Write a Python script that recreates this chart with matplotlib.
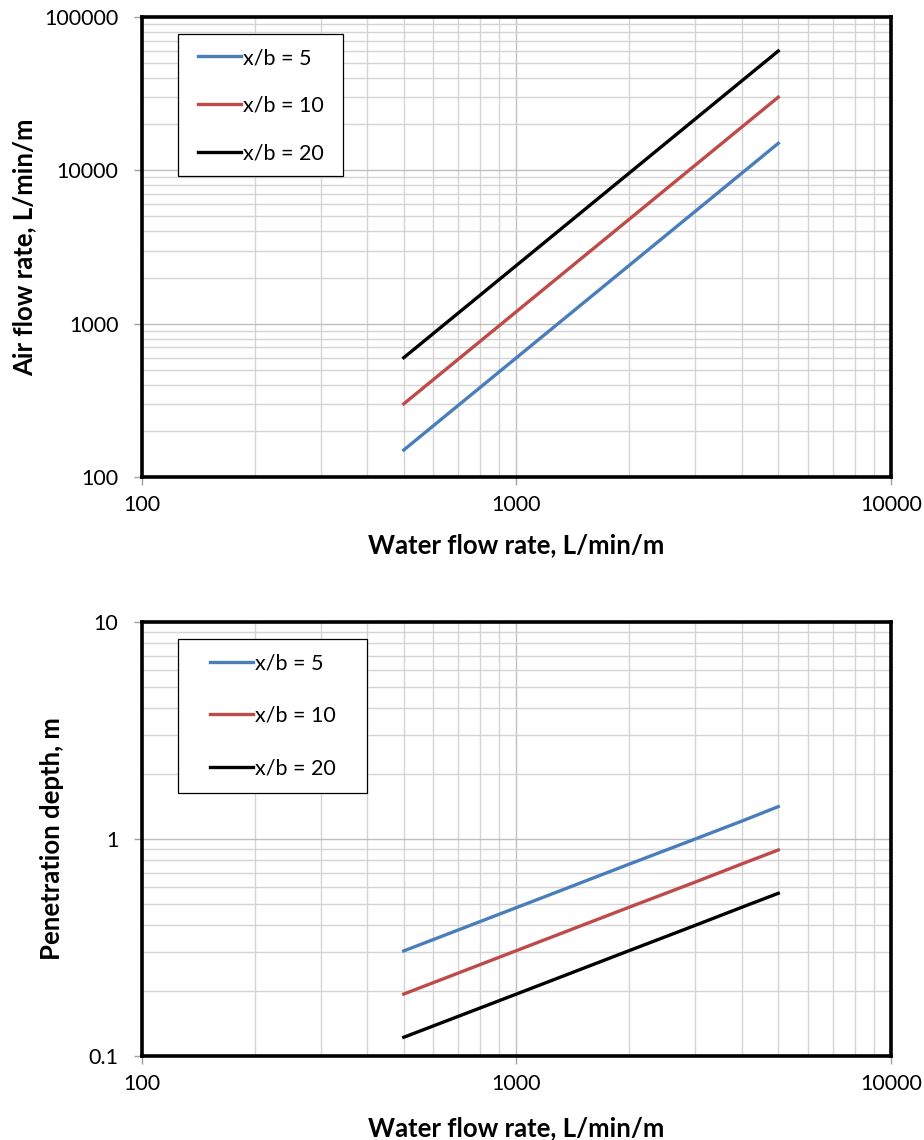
import matplotlib
matplotlib.use("Agg")
import matplotlib.pyplot as plt
from matplotlib.patches import Rectangle
from matplotlib.ticker import LogLocator, NullFormatter
from matplotlib.transforms import blended_transform_factory

plt.rcParams['font.family'] = ['Lato', 'DejaVu Sans']

# water flow rate, L/min/m
water = [500, 1000, 2000, 3000, 4000, 5000]

# air flow rate, L/min/m
air_5 = [150, 600, 2400, 5400, 9600, 15000]
air_10 = [300, 1200, 4800, 10800, 19200, 30000]
air_20 = [600, 2400, 9600, 21600, 38400, 60000]

# penetration depth, m
depth_5 = [0.305, 0.483, 0.766, 1.0, 1.21, 1.41]
depth_10 = [0.193, 0.306, 0.485, 0.633, 0.768, 0.89]
depth_20 = [0.122, 0.193, 0.306, 0.40, 0.485, 0.562]

labels = ['x/b = 5', 'x/b = 10', 'x/b = 20']
colors = ['#4a7ebb', '#be4b48', '#000000']

x_ticks = [100, 1000, 10000]
x_ticklabels = ['100', '1000', '10000']
air_ticks = [100, 1000, 10000, 100000]
air_ticklabels = ['100', '1000', '10000', '100000']
depth_ticks = [0.1, 1, 10]
depth_ticklabels = ['0.1', '1', '10']

W, H = 924, 1140
fig = plt.figure(figsize=(W / 100, H / 100), dpi=100)


def box(l, t, r, b):
    return [l / W, 1 - b / H, (r - l) / W, (b - t) / H]


ax1 = fig.add_axes(box(142, 17, 891, 477))
ax2 = fig.add_axes(box(142, 622, 891, 1056))


def style(ax, yticks, yticklabels, ylabel, ylim, xlab_base, ylab_x):
    ax.set_xscale('log')
    ax.set_yscale('log')
    ax.set_xlim(100, 10000)
    ax.set_ylim(*ylim)
    ax.set_xticks(x_ticks)
    ax.set_xticklabels(x_ticklabels)
    ax.set_yticks(yticks)
    ax.set_yticklabels(yticklabels)
    for axis in (ax.xaxis, ax.yaxis):
        axis.set_minor_locator(LogLocator(base=10, subs=range(2, 10), numticks=20))
        axis.set_minor_formatter(NullFormatter())
    ax.grid(True, which='major', color='#bfbfbf', linewidth=1.0)
    ax.grid(True, which='minor', color='#d4d4d4', linewidth=1.0)
    ax.set_axisbelow(True)
    ax.tick_params(which='major', direction='out', length=6, width=1,
                   color='#a0a0a0', labelsize=15.5)
    ax.tick_params(axis='y', which='major', pad=11)
    ax.tick_params(axis='x', which='major', pad=7)
    ax.tick_params(which='minor', length=0)
    for s in ax.spines.values():
        s.set_linewidth(2.6)
        s.set_color('black')
    ax.set_xlabel('Water flow rate, L/min/m', fontsize=18.5, fontweight='bold',
                  va='baseline')
    ax.set_ylabel(ylabel, fontsize=18.5, fontweight='bold', va='center')
    ax.xaxis.set_label_coords(516 / W, 1 - xlab_base / H, transform=fig.transFigure)
    ax.yaxis.set_label_coords(ylab_x / W, 0.5,
                              transform=blended_transform_factory(fig.transFigure, ax.transAxes))


for ys, lab, c in zip([air_5, air_10, air_20], labels, colors):
    ax1.plot(water, ys, color=c, linewidth=2.4, label=lab)
for ys, lab, c in zip([depth_5, depth_10, depth_20], labels, colors):
    ax2.plot(water, ys, color=c, linewidth=2.4, label=lab)

style(ax1, air_ticks, air_ticklabels, 'Air flow rate, L/min/m', (100, 100000), 553, 24)
style(ax2, depth_ticks, depth_ticklabels, 'Penetration depth, m', (0.1, 10), 1136, 52)

# legend frames (pixel boxes) and entries
legend_boxes = [(ax1, (178, 34, 343, 176), (198, 106), 1.3),
                (ax2, (178, 639, 367, 793), (210, 716), 1.5)]
for ax, (l, t, r, b), (hx, hy), spacing in legend_boxes:
    fig.patches.append(Rectangle((l / W, 1 - b / H), (r - l) / W, (b - t) / H,
                                 transform=fig.transFigure, facecolor='white',
                                 edgecolor='black', linewidth=0.9, zorder=5))
    leg = fig.legend(*ax.get_legend_handles_labels(), loc='center left',
                     bbox_to_anchor=(hx / W, 1 - hy / H), fontsize=15.5,
                     frameon=False, handlelength=2.0, handletextpad=0.1,
                     labelspacing=spacing, borderpad=0, borderaxespad=0)
    leg.set_zorder(6)

fig.savefig('out.png', dpi=100)
